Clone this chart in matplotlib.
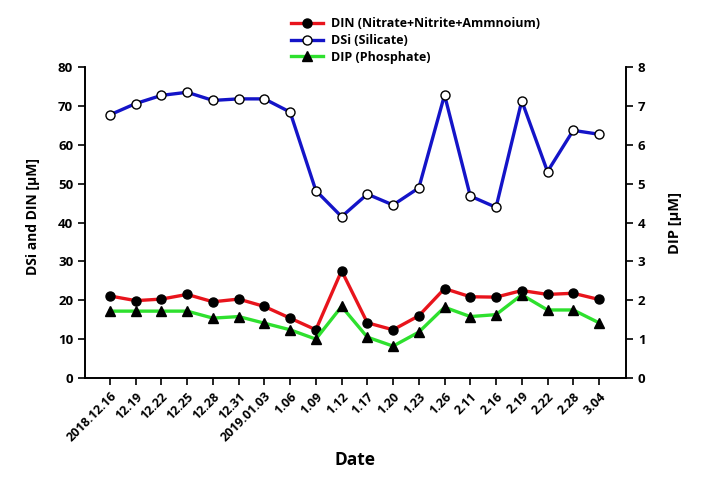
import matplotlib
matplotlib.use("Agg")
import matplotlib.pyplot as plt
from matplotlib.lines import Line2D

dates = ["2018.12.16", "12.19", "12.22", "12.25", "12.28", "12.31", "2019.01.03",
         "1.06", "1.09", "1.12", "1.17", "1.20", "1.23", "1.26", "2.11", "2.16",
         "2.19", "2.22", "2.28", "3.04"]
din = [21.1, 19.9, 20.3, 21.5, 19.6, 20.3, 18.4, 15.4, 12.4, 27.6,
       14.2, 12.4, 16.0, 23.0, 20.9, 20.8, 22.5, 21.5, 21.8, 20.2]
dsi = [67.7, 70.6, 72.7, 73.5, 71.4, 71.8, 71.8, 68.4, 48.2, 41.5,
       47.3, 44.5, 48.9, 72.8, 46.8, 43.9, 71.3, 53.1, 63.7, 62.7]
dip = [1.72, 1.72, 1.72, 1.72, 1.54, 1.58, 1.41, 1.24, 1.00, 1.84,
       1.05, 0.82, 1.18, 1.82, 1.58, 1.63, 2.14, 1.75, 1.75, 1.42]

plt.rcParams['font.family'] = ['Open Sans', 'DejaVu Sans']
plt.rcParams['font.weight'] = 'bold'

fig = plt.figure(figsize=(7.06, 4.80), dpi=100)
ax = fig.add_axes([85/706, 1-378/480, (626-85)/706, (378-67)/480])
ax2 = ax.twinx()

x = list(range(len(dates)))
red = '#e8141c'
blue = '#1414c8'
green = '#2ee02e'

ax.plot(x, din, color=red, lw=2.4, marker='o', ms=6.5, mfc='black', mec='black', zorder=3)
ax.plot(x, dsi, color=blue, lw=2.4, marker='o', ms=6.5, mfc='white', mec='black', mew=1.0, zorder=3)
ax2.plot(x, dip, color=green, lw=2.4, marker='^', ms=6.5, mfc='black', mec='black', zorder=3)

ax.set_xlim(-0.97, 20.05)
ax.set_ylim(0, 80)
ax2.set_ylim(0, 8)
ax.set_yticks(range(0, 81, 10))
ax2.set_yticks(range(0, 9, 1))
ax.set_xticks(x)
ax.set_xticklabels(dates, rotation=45, ha='right', rotation_mode='anchor', fontsize=9, fontweight='bold')

for a in (ax, ax2):
    a.spines['top'].set_visible(False)
    for s in a.spines.values():
        s.set_linewidth(1.2)
    a.tick_params(direction='out', length=5, width=1.2, labelsize=9.5)
    for lab in a.get_yticklabels():
        lab.set_fontweight('bold')
ax.tick_params(axis='x', labelsize=9)

ax.set_ylabel('DSi and DIN [μM]', fontsize=10, fontweight='bold')
ax.yaxis.set_label_coords(-0.083, 0.52)
ax2.set_ylabel('DIP [μM]', fontsize=10.5, fontweight='bold', rotation=90)
ax2.yaxis.set_label_coords(1.077, 0.5)
fig.text(355/706, 1-460/480, 'Date', ha='center', va='center', fontsize=12.5, fontweight='bold')

handles = [
    Line2D([], [], color=red, lw=2.4, marker='o', ms=6.5, mfc='black', mec='black'),
    Line2D([], [], color=blue, lw=2.4, marker='o', ms=6.5, mfc='white', mec='black'),
    Line2D([], [], color=green, lw=2.4, marker='^', ms=6.5, mfc='black', mec='black'),
]
labels = ['DIN (Nitrate+Nitrite+Ammnoium)', 'DSi (Silicate)', 'DIP (Phosphate)']
fig.legend(handles, labels, loc='upper left', bbox_to_anchor=(280/706, 1-6/480),
           frameon=False, handlelength=2.5, labelspacing=0.3, handletextpad=0.7,
           prop={'weight': 'bold', 'size': 9})

fig.savefig('out.png', dpi=100)
